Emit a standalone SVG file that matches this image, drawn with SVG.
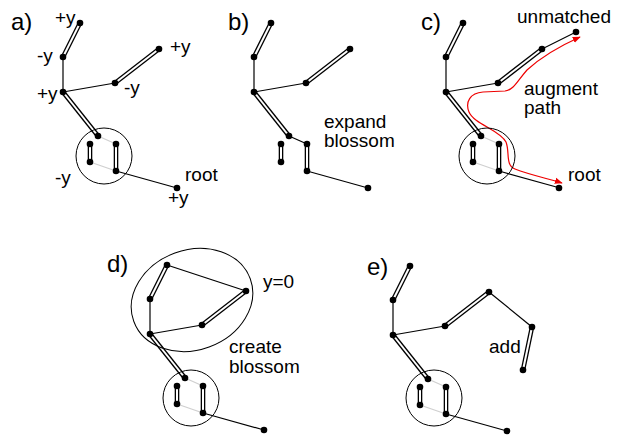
<svg xmlns="http://www.w3.org/2000/svg" width="621" height="437" viewBox="0 0 621 437">
<style>
.s{stroke:#000;stroke-width:1.2;fill:none}
.d1{stroke:#000;stroke-width:4.6;fill:none}
.d2{stroke:#fff;stroke-width:2;fill:none}
.g{stroke:#cfcfcf;stroke-width:1.2;fill:none}
.n{fill:#000}
.ring{fill:none;stroke:#000;stroke-width:1}
.t{font-family:"Liberation Sans",Arial,sans-serif;font-size:19px;fill:#000}
.p{font-family:"Liberation Sans",Arial,sans-serif;font-size:24px;fill:#000}
.red{stroke:#e00;stroke-width:1.2;fill:none}
</style>
<defs>
<marker id="arr" viewBox="0 0 10 10" refX="9" refY="5" markerWidth="8" markerHeight="8" markerUnits="userSpaceOnUse" orient="auto-start-reverse">
<path d="M0,1 L10,5 L0,9 z" fill="#e00"/>
</marker>
<g id="dblA">
<line x1="80" y1="23" x2="63" y2="57"/>
<line x1="115" y1="83" x2="159" y2="49"/>
<line x1="63" y1="92" x2="98" y2="136"/>
<line x1="90" y1="144" x2="90" y2="162"/>
<line x1="116" y1="144" x2="116" y2="171"/>
</g>
</defs>

<!-- Panel a -->
<g id="panel-a">
<g id="a-edges">
<line class="s" x1="63" y1="57" x2="63" y2="92"/>
<line class="s" x1="63" y1="92" x2="115" y2="83"/>
<line class="s" x1="116" y1="171" x2="177" y2="188"/>
<line class="g" x1="98" y1="136" x2="116" y2="144"/>
<line class="g" x1="90" y1="162" x2="116" y2="171"/>
<use href="#dblA" class="d1"/>
<use href="#dblA" class="d2"/>
</g>
<circle id="a-blossom" class="ring" cx="104" cy="156" r="28"/>
<g id="a-n1"><circle class="n" cx="80" cy="23" r="3.3"/></g>
<g id="a-n2"><circle class="n" cx="63" cy="57" r="3.3"/></g>
<g id="a-n3"><circle class="n" cx="63" cy="92" r="3.3"/></g>
<g id="a-n4"><circle class="n" cx="115" cy="83" r="3.3"/></g>
<g id="a-n5"><circle class="n" cx="159" cy="49" r="3.3"/></g>
<g id="a-n6"><circle class="n" cx="98" cy="136" r="3.3"/></g>
<g id="a-n7"><circle class="n" cx="90" cy="144" r="3.3"/></g>
<g id="a-n8"><circle class="n" cx="90" cy="162" r="3.3"/></g>
<g id="a-n9"><circle class="n" cx="116" cy="144" r="3.3"/></g>
<g id="a-n10"><circle class="n" cx="116" cy="171" r="3.3"/></g>
<g id="a-root"><circle class="n" cx="177" cy="188" r="3.3"/></g>
<text class="p" x="11" y="30">a)</text>
<text class="t" x="55" y="24">+y</text>
<text class="t" x="37" y="62">-y</text>
<text class="t" x="37" y="100">+y</text>
<text class="t" x="124" y="94">-y</text>
<text class="t" x="170" y="53">+y</text>
<text class="t" x="55" y="184">-y</text>
<text class="t" x="185" y="181">root</text>
<text class="t" x="168" y="204">+y</text>
</g>

<!-- Panel b -->
<g id="panel-b">
<g id="b-edges">
<line class="s" x1="254" y1="57" x2="254" y2="92"/>
<line class="s" x1="254" y1="92" x2="306" y2="83"/>
<line class="s" x1="289" y1="136" x2="307" y2="144"/>
<line class="s" x1="307" y1="171" x2="368" y2="188"/>
<use href="#dblA" class="d1" transform="translate(191,0)"/>
<use href="#dblA" class="d2" transform="translate(191,0)"/>
</g>
<g transform="translate(191,0)">
<g id="b-n1"><circle class="n" cx="80" cy="23" r="3.3"/></g>
<g id="b-n2"><circle class="n" cx="63" cy="57" r="3.3"/></g>
<g id="b-n3"><circle class="n" cx="63" cy="92" r="3.3"/></g>
<g id="b-n4"><circle class="n" cx="115" cy="83" r="3.3"/></g>
<g id="b-n5"><circle class="n" cx="159" cy="49" r="3.3"/></g>
<g id="b-n6"><circle class="n" cx="98" cy="136" r="3.3"/></g>
<g id="b-n7"><circle class="n" cx="90" cy="144" r="3.3"/></g>
<g id="b-n8"><circle class="n" cx="90" cy="162" r="3.3"/></g>
<g id="b-n9"><circle class="n" cx="116" cy="144" r="3.3"/></g>
<g id="b-n10"><circle class="n" cx="116" cy="171" r="3.3"/></g>
<g id="b-root"><circle class="n" cx="177" cy="188" r="3.3"/></g>
</g>
<text class="p" x="228" y="30">b)</text>
<text class="t" x="324" y="128">expand</text>
<text class="t" x="324" y="147">blossom</text>
</g>

<!-- Panel c -->
<g id="panel-c">
<g id="c-edges">
<g transform="translate(383,0)">
<line class="s" x1="63" y1="57" x2="63" y2="92"/>
<line class="s" x1="63" y1="92" x2="115" y2="83"/>
<line class="s" x1="116" y1="171" x2="177" y2="188"/>
<line class="s" x1="159" y1="49" x2="193" y2="32"/>
<line class="g" x1="98" y1="136" x2="116" y2="144"/>
<line class="g" x1="90" y1="162" x2="116" y2="171"/>
<use href="#dblA" class="d1"/>
<use href="#dblA" class="d2"/>
</g>
<path id="c-augment" class="red" marker-start="url(#arr)" marker-end="url(#arr)" d="M580,37 C560,46 540,58 527,70 C518,80 514,90 505,91 L483,92 C470,93 465,102 469,112 C474,124 500,130 506,142 C510,152 505,165 515,169 C530,175 550,179 562,183"/>
</g>
<g transform="translate(383,0)">
<circle id="c-blossom" class="ring" cx="104" cy="156" r="28"/>
<g id="c-n1"><circle class="n" cx="80" cy="23" r="3.3"/></g>
<g id="c-n2"><circle class="n" cx="63" cy="57" r="3.3"/></g>
<g id="c-n3"><circle class="n" cx="63" cy="92" r="3.3"/></g>
<g id="c-n4"><circle class="n" cx="115" cy="83" r="3.3"/></g>
<g id="c-n5"><circle class="n" cx="159" cy="49" r="3.3"/></g>
<g id="c-n6"><circle class="n" cx="98" cy="136" r="3.3"/></g>
<g id="c-n7"><circle class="n" cx="90" cy="144" r="3.3"/></g>
<g id="c-n8"><circle class="n" cx="90" cy="162" r="3.3"/></g>
<g id="c-n9"><circle class="n" cx="116" cy="144" r="3.3"/></g>
<g id="c-n10"><circle class="n" cx="116" cy="171" r="3.3"/></g>
<g id="c-root"><circle class="n" cx="176" cy="188" r="3.3"/></g>
<g id="c-unmatched"><circle class="n" cx="193" cy="32" r="3.3"/></g>
</g>
<text class="p" x="421" y="30">c)</text>
<text class="t" x="517" y="23">unmatched</text>
<text class="t" x="524" y="95">augment</text>
<text class="t" x="524" y="114">path</text>
<text class="t" x="568" y="181">root</text>
</g>

<!-- Panel d -->
<g id="panel-d">
<g id="d-edges" transform="translate(87,242)">
<line class="s" x1="63" y1="57" x2="63" y2="92"/>
<line class="s" x1="63" y1="92" x2="115" y2="83"/>
<line class="s" x1="80" y1="23" x2="159" y2="49"/>
<line class="s" x1="116" y1="171" x2="177" y2="188"/>
<line class="g" x1="98" y1="136" x2="116" y2="144"/>
<line class="g" x1="90" y1="162" x2="116" y2="171"/>
<use href="#dblA" class="d1"/>
<use href="#dblA" class="d2"/>
</g>
<ellipse id="d-bigblossom" class="ring" cx="192" cy="300" rx="62" ry="50" transform="rotate(-20 192 300)"/>
<g transform="translate(87,242)">
<circle id="d-blossom" class="ring" cx="104" cy="156" r="28"/>
<g id="d-n1"><circle class="n" cx="80" cy="23" r="3.3"/></g>
<g id="d-n2"><circle class="n" cx="63" cy="57" r="3.3"/></g>
<g id="d-n3"><circle class="n" cx="63" cy="92" r="3.3"/></g>
<g id="d-n4"><circle class="n" cx="115" cy="83" r="3.3"/></g>
<g id="d-n5"><circle class="n" cx="159" cy="49" r="3.3"/></g>
<g id="d-n6"><circle class="n" cx="98" cy="136" r="3.3"/></g>
<g id="d-n7"><circle class="n" cx="90" cy="144" r="3.3"/></g>
<g id="d-n8"><circle class="n" cx="90" cy="162" r="3.3"/></g>
<g id="d-n9"><circle class="n" cx="116" cy="144" r="3.3"/></g>
<g id="d-n10"><circle class="n" cx="116" cy="171" r="3.3"/></g>
<g id="d-root"><circle class="n" cx="177" cy="188" r="3.3"/></g>
</g>
<text class="p" x="107" y="272">d)</text>
<text class="t" x="263" y="288">y=0</text>
<text class="t" x="229" y="353">create</text>
<text class="t" x="229" y="373">blossom</text>
</g>

<!-- Panel e -->
<g id="panel-e">
<g id="e-edges" transform="translate(330,243)">
<line class="s" x1="63" y1="57" x2="63" y2="92"/>
<line class="s" x1="63" y1="92" x2="115" y2="83"/>
<line class="s" x1="159" y1="49" x2="202" y2="84"/>
<line class="s" x1="116" y1="171" x2="177" y2="188"/>
<line class="g" x1="98" y1="136" x2="116" y2="144"/>
<line class="g" x1="90" y1="162" x2="116" y2="171"/>
<use href="#dblA" class="d1"/>
<use href="#dblA" class="d2"/>
<line class="d1" x1="202" y1="84" x2="193" y2="127"/>
<line class="d2" x1="202" y1="84" x2="193" y2="127"/>
</g>
<g transform="translate(330,243)">
<circle id="e-blossom" class="ring" cx="104" cy="155" r="28"/>
<g id="e-n1"><circle class="n" cx="80" cy="23" r="3.3"/></g>
<g id="e-n2"><circle class="n" cx="63" cy="57" r="3.3"/></g>
<g id="e-n3"><circle class="n" cx="63" cy="92" r="3.3"/></g>
<g id="e-n4"><circle class="n" cx="115" cy="83" r="3.3"/></g>
<g id="e-n5"><circle class="n" cx="159" cy="49" r="3.3"/></g>
<g id="e-n6"><circle class="n" cx="98" cy="136" r="3.3"/></g>
<g id="e-n7"><circle class="n" cx="90" cy="144" r="3.3"/></g>
<g id="e-n8"><circle class="n" cx="90" cy="162" r="3.3"/></g>
<g id="e-n9"><circle class="n" cx="116" cy="144" r="3.3"/></g>
<g id="e-n10"><circle class="n" cx="116" cy="171" r="3.3"/></g>
<g id="e-root"><circle class="n" cx="177" cy="188" r="3.3"/></g>
<g id="e-n11"><circle class="n" cx="202" cy="84" r="3.3"/></g>
<g id="e-n12"><circle class="n" cx="193" cy="127" r="3.3"/></g>
</g>
<text class="p" x="367" y="275">e)</text>
<text class="t" x="489" y="353">add</text>
</g>
</svg>
